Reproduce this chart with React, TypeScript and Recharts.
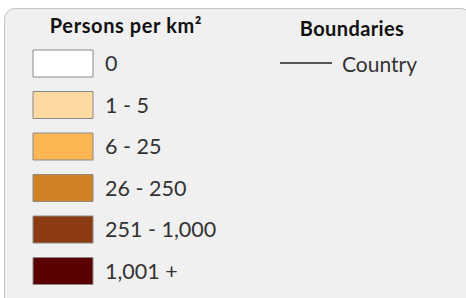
import React from 'react';
import { BarChart, Bar, XAxis, YAxis, Cell, LabelList } from 'recharts';

const densityRanges = ['0', '1 - 5', '6 - 25', '26 - 250', '251 - 1,000', '1,001 +'];
const densityColors = ['#ffffff', '#fed9a0', '#fdb654', '#d08124', '#8b3b0f', '#5a0000'];
const boundaryNames = ['Country'];
const boundaryColors = ['#555555'];

const SWATCH = 3;
const rows = densityRanges.map((range, i) => ({ range, swatch: SWATCH, color: densityColors[i] }));

const FONT = 'Lato, "DejaVu Sans", sans-serif';

export default function App() {
  return (
    <div style={{ position: 'absolute', left: 0, top: 0, width: 466, height: 298, background: '#fff', overflow: 'hidden' }}>
      <div
        style={{
          position: 'absolute', left: 4, top: 8, width: 466, height: 310,
          background: '#f0f0f0', border: '1px solid #c4c4c4', borderRadius: 11,
        }}
      />
      <div style={{ position: 'absolute', left: 0, width: 252, top: 13, textAlign: 'center', fontFamily: FONT, fontWeight: 700, fontSize: 20, letterSpacing: 0.6, color: '#111' }}>
        Persons per km²
      </div>
      <div style={{ position: 'absolute', left: 252, width: 200, top: 16, textAlign: 'center', fontFamily: FONT, fontWeight: 700, fontSize: 20, letterSpacing: 0.4, color: '#111' }}>
        Boundaries
      </div>
      <div style={{ position: 'absolute', left: 280, top: 51, fontFamily: FONT }}>
        {boundaryNames.map((name, i) => (
          <div key={name} style={{ display: 'flex', alignItems: 'center', height: 24 }}>
            <span style={{ display: 'inline-block', width: 52, height: 2, background: boundaryColors[i], marginRight: 10 }} />
            <span style={{ fontSize: 21, color: '#333' }}>{name}</span>
          </div>
        ))}
      </div>
      <div style={{ position: 'absolute', left: 0, top: 0 }}>
        <BarChart width={466} height={298} data={rows} layout="vertical" margin={{ top: 43, right: 33, bottom: 6, left: 33 }}>
          <XAxis type="number" domain={[0, 20]} hide />
          <YAxis type="category" dataKey="range" hide />
          <Bar dataKey="swatch" barSize={27} stroke="#8a8a8a" strokeWidth={1} isAnimationActive={false}>
            {rows.map((r) => (
              <Cell key={r.range} fill={r.color} />
            ))}
            <LabelList dataKey="range" position="right" offset={12} fill="#333" fontSize={21.5} fontFamily={FONT} />
          </Bar>
        </BarChart>
      </div>
    </div>
  );
}
